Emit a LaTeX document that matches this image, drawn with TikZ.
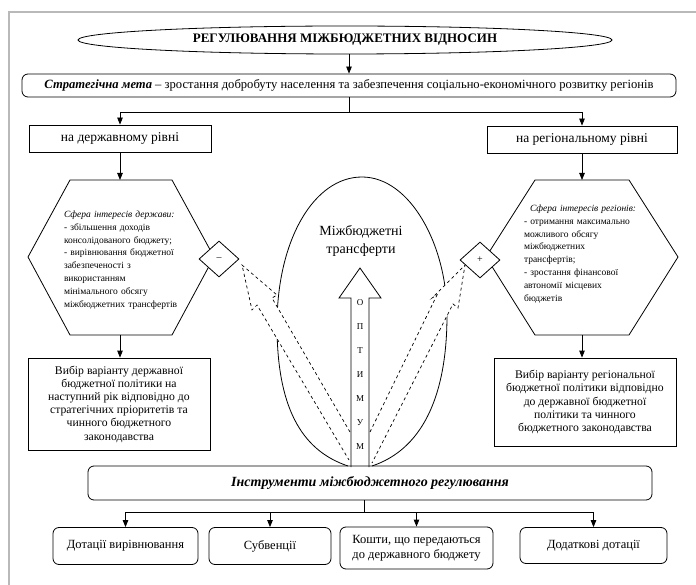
\documentclass[tikz,border=0pt]{standalone}
\usepackage{fontspec}
\setmainfont{Liberation Serif}
\usetikzlibrary{shapes.geometric,arrows.meta}

\tikzset{
  box/.style={draw, line width=0.8pt, align=center, inner sep=2pt},
  rbox/.style={box, rounded corners=6pt},
  arr/.style={-{Triangle[length=7pt,width=5.5pt]}, line width=0.8pt},
  sign/.style={diamond, draw, fill=white, line width=0.8pt, minimum width=40, minimum height=36, inner sep=0pt},
  hexa/.style={draw, line width=0.8pt},
  hextxt/.style={align=left, text width=118, inner sep=0pt, font=\fontsize{9.5}{12.8}\selectfont},
  hollow/.style={draw, fill=white, dashed, line width=0.7pt}
}

\begin{document}
\begin{tikzpicture}[x=1pt,y=-1pt]
  \useasboundingbox (0,0) rectangle (696,585);
  \draw[gray!55, line width=2] (696,12) -- (9,12) -- (9,585);

  \node[draw, ellipse, line width=0.8pt, minimum width=534, minimum height=28, inner sep=0pt,
    font=\bfseries\fontsize{13}{15}\selectfont] (title) at (345,40) {РЕГУЛЮВАННЯ МІЖБЮДЖЕТНИХ ВІДНОСИН};
  \node[rbox, minimum width=654, minimum height=23, font=\fontsize{12.6}{14}\selectfont] (goal) at (349,85.5)
    {\textbf{\textit{Стратегічна мета}} – зростання добробуту населення та забезпечення соціально-економічного розвитку регіонів};
  \draw[arr] (title.south -| goal.north) -- (goal.north);

  \node[box, minimum width=182, minimum height=27, font=\fontsize{13.5}{15}\selectfont] (lvlL) at (120,138.5) {на державному рівні};
  \node[box, minimum width=190, minimum height=27, font=\fontsize{13.5}{15}\selectfont] (lvlR) at (582,139.5) {на регіональному рівні};
  \coordinate (bus1) at (349,112);
  \draw[arr] (goal.south) -- (goal.south |- bus1) -| (lvlL.north);
  \draw[arr] (goal.south |- bus1) -| (lvlR.north);

  % hexagons
  \coordinate (hexLn) at (120,180);
  \coordinate (hexLs) at (120,335);
  \draw[hexa] (28,257) -- (70,180) -- (172,180) -- (214,257) -- (172,335) -- (70,335) -- cycle;
  \coordinate (hexRn) at (582,180);
  \coordinate (hexRs) at (582,335);
  \draw[hexa] (486,257) -- (535,180) -- (629,180) -- (678,257) -- (629,335) -- (535,335) -- cycle;
  \draw[arr] (lvlL.south) -- (hexLn);
  \draw[arr] (lvlR.south) -- (hexRn);

  \node[hextxt] (intL) at (123,260) {\textit{Сфера інтересів держави:}\\
    - збільшення доходів\\консолідованого бюджету;\\- вирівнювання бюджетної\\забезпеченості з\\використанням\\мінімального обсягу\\міжбюджетних трансфертів};
  \node[hextxt] (intR) at (583,254) {\hspace*{6pt}\textit{Сфера інтересів регіонів:}\\
    - отримання максимально\\можливого обсягу\\міжбюджетних\\трансфертів;\\- зростання фінансової\\автономії місцевих\\бюджетів};

  \node[sign] (minus) at (219,259) {–};
  \node[sign] (plus) at (480,260) {+};

  \node[box, minimum width=182, minimum height=92, font=\fontsize{11.7}{13.2}\selectfont] (choiceL) at (119,404)
    {Вибір варіанту державної\\бюджетної політики на\\наступний рік відповідно до\\стратегічних пріоритетів та\\чинного бюджетного\\законодавства};
  \node[box, minimum width=182, minimum height=88, font=\fontsize{11.7}{13.2}\selectfont] (choiceR) at (585,402)
    {Вибір варіанту регіональної\\бюджетної політики відповідно\\до державної бюджетної\\політики та чинного\\бюджетного законодавства};
  \draw[arr] (hexLs) -- (hexLs |- choiceL.north);
  \draw[arr] (hexRs) -- (hexRs |- choiceR.north);

  % transfers
  \draw[line width=0.8pt] (348,466) .. controls (300,450) and (277,405) .. (277,325)
    .. controls (277,240) and (314,177) .. (362,177)
    .. controls (410,177) and (447,245) .. (447,315)
    .. controls (447,400) and (420,450) .. (372,466);
  \node[align=center, font=\fontsize{14}{18}\selectfont] (transf) at (361,241) {Міжбюджетні\\трансферти};

  \draw[hollow] (350,432) -- (272,298) -- (277,295) -- (242,265) -- (252,310) -- (257,305) -- (349,460);
  \draw[hollow] (370,432) -- (437,295) -- (432,298) -- (465,265) -- (458,308) -- (453,304) -- (372,463);

  \draw[line width=0.8pt, fill=white] (351,467) -- (351,298) -- (339,298) -- (360,268) -- (381,298) -- (369,298) -- (369,467);
  \foreach \ch [count=\i] in {О,П,Т,И,М,У,М}
    \node[font=\fontsize{9}{10}\selectfont, inner sep=0pt] (opt\i) at (360,303+24*\i-24) {\ch};

  % instruments
  \node[rbox, minimum width=564, minimum height=34, font=\bfseries\itshape\fontsize{14}{16}\selectfont] (instr) at (370,483)
    {Інструменти міжбюджетного регулювання};
  \coordinate (bus2) at (364,512);

  \node[rbox, minimum width=145, minimum height=37, font=\fontsize{12.5}{14}\selectfont] (b1) at (125.5,546) {Дотації вирівнювання};
  \node[rbox, minimum width=122, minimum height=37, font=\fontsize{12.5}{14}\selectfont] (b2) at (270,546) {Субвенції};
  \node[rbox, minimum width=153, minimum height=42, font=\fontsize{12.5}{15}\selectfont] (b3) at (416.5,548) {Кошти, що передаються\\до державного бюджету};
  \node[rbox, minimum width=147, minimum height=36, font=\fontsize{12.5}{14}\selectfont] (b4) at (593.5,545.5) {Додаткові дотації};
  \draw (instr.south -| bus2) -- (bus2);
  \draw[arr] (bus2) -| (b1.north);
  \draw[arr] (bus2 -| b1.north) -| (b2.north);
  \draw[arr] (bus2) -| (b3.north);
  \draw[arr] (bus2) -| (b4.north);
\end{tikzpicture}
\end{document}
